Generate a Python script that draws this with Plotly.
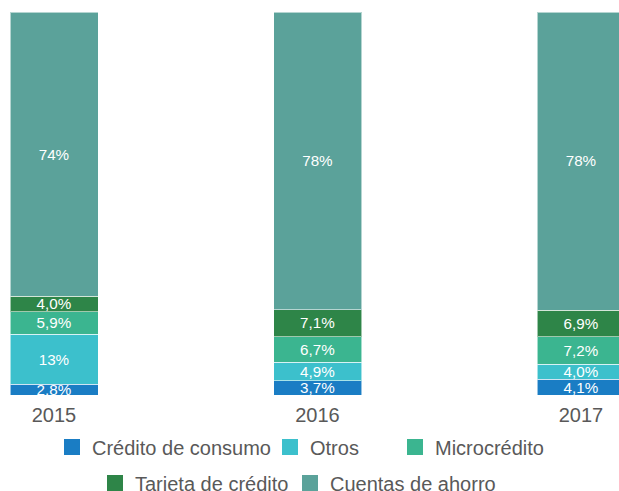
import plotly.graph_objects as go

years = ["2015", "2016", "2017"]

credito_consumo = [2.8, 3.7, 4.1]
otros = [13, 4.9, 4.0]
microcredito = [5.9, 6.7, 7.2]
tarjeta_credito = [4.0, 7.1, 6.9]
cuentas_ahorro = [74, 78, 78]

series = [
    ("Crédito de consumo", credito_consumo, "#1a7dc4"),
    ("Otros", otros, "#3cc0cc"),
    ("Microcrédito", microcredito, "#3bb590"),
    ("Tarjeta de crédito", tarjeta_credito, "#2e8548"),
    ("Cuentas de ahorro", cuentas_ahorro, "#5ba29a"),
]

W, H = 619, 491

# one legend per entry so the spacing can follow the original layout
# (x of the entry text, y of the row centre, in px)
legend_pos = [(92, 447), (310, 447), (435, 447), (135, 483), (330, 483)]


def fmt(v):
    # percent labels with comma decimals, whole numbers when >= 10
    if v >= 10:
        return f"{v:.0f}%"
    return f"{v:.1f}%".replace(".", ",")


FONT = "Liberation Sans, Arial, sans-serif"

fig = go.Figure()
for name, vals, color in series:
    fig.add_trace(go.Bar(
        x=years, y=vals, name=name,
        marker_color=color,
        marker_line=dict(color="rgba(255,255,255,0.55)", width=1),
        text=[fmt(v) for v in vals],
        textposition="inside",
        insidetextanchor="middle",
        textfont=dict(color="white", size=15.5, family=FONT),
        showlegend=False,
        hoverinfo="skip",
    ))

legends = {}
for i, ((name, vals, color), (tx, ty)) in enumerate(zip(series, legend_pos)):
    key = "legend" if i == 0 else f"legend{i + 1}"
    # legend-only square swatch (bigger than the default bar swatch)
    fig.add_trace(go.Scatter(
        x=[None], y=[None], mode="markers", name=name,
        marker=dict(symbol="square", size=17, color=color),
        legend=key, showlegend=True, hoverinfo="skip",
    ))
    legends[key] = dict(
        orientation="h", xref="container", yref="container",
        x=(tx - 40) / W, xanchor="left", y=1 - ty / H, yanchor="middle",
        font=dict(size=20, color="#595959", family=FONT),
        bgcolor="rgba(0,0,0,0)",
    )

fig.update_layout(
    width=W, height=H,
    barmode="stack",
    barnorm="percent",
    bargap=0.666,
    plot_bgcolor="white",
    paper_bgcolor="white",
    margin=dict(l=0, r=0, t=12, b=96),
    uniformtext=dict(minsize=15, mode="show"),
    font=dict(family=FONT, color="#595959"),
    xaxis=dict(type="category", range=[-54 / 263.5, (W - 54) / 263.5],
               showgrid=False, showline=False, zeroline=False,
               ticks="outside", ticklen=2, tickcolor="rgba(0,0,0,0)",
               tickfont=dict(size=20, color="#595959")),
    yaxis=dict(range=[0, 100], visible=False),
    **legends,
)

# drop the browser's default body margin so the figure fills the window
fig.write_html(
    "out.html",
    config={"displayModeBar": False},
    post_script="document.body.style.margin='0';"
                "document.body.style.overflow='hidden';",
)
